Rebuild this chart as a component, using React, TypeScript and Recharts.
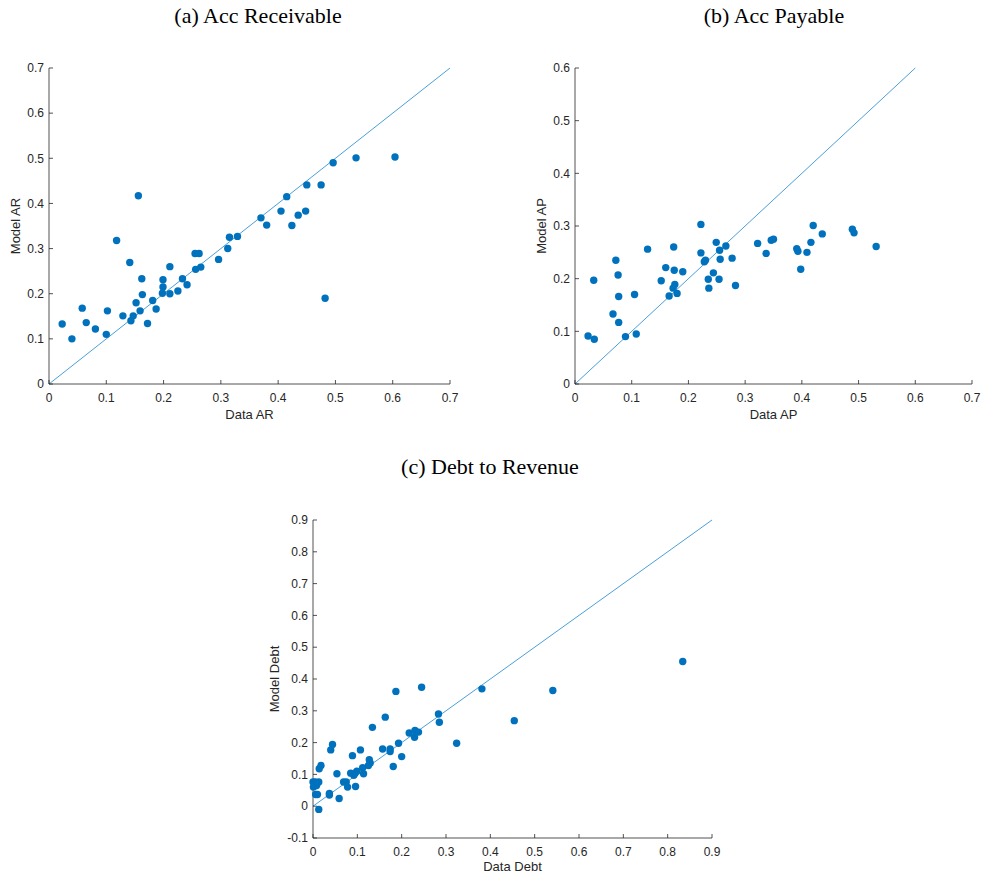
import { ScatterChart, Scatter, XAxis, YAxis, ReferenceLine } from "recharts";

// (a) accounts receivable: data vs model
const arData = [0.023, 0.04, 0.058, 0.065, 0.081, 0.1, 0.102, 0.118, 0.129, 0.141, 0.143, 0.147, 0.152, 0.156, 0.159, 0.162, 0.163, 0.172, 0.181, 0.187, 0.199, 0.199, 0.198, 0.211, 0.211, 0.225, 0.233, 0.241, 0.256, 0.255, 0.262, 0.265, 0.296, 0.312, 0.315, 0.329, 0.37, 0.38, 0.405, 0.415, 0.424, 0.435, 0.448, 0.45, 0.475, 0.482, 0.496, 0.536, 0.604];
const arModel = [0.133, 0.1, 0.168, 0.136, 0.122, 0.11, 0.162, 0.318, 0.151, 0.269, 0.14, 0.151, 0.18, 0.417, 0.162, 0.233, 0.198, 0.134, 0.185, 0.166, 0.231, 0.215, 0.201, 0.26, 0.2, 0.206, 0.233, 0.22, 0.254, 0.289, 0.289, 0.259, 0.276, 0.3, 0.325, 0.327, 0.368, 0.352, 0.383, 0.415, 0.351, 0.374, 0.383, 0.441, 0.441, 0.19, 0.49, 0.501, 0.503];

// (b) accounts payable
const apData = [0.023, 0.034, 0.033, 0.067, 0.072, 0.076, 0.077, 0.077, 0.089, 0.105, 0.108, 0.128, 0.152, 0.16, 0.166, 0.174, 0.175, 0.173, 0.176, 0.18, 0.19, 0.222, 0.222, 0.228, 0.23, 0.235, 0.236, 0.244, 0.249, 0.254, 0.255, 0.256, 0.266, 0.277, 0.283, 0.322, 0.337, 0.346, 0.35, 0.391, 0.393, 0.398, 0.409, 0.416, 0.42, 0.436, 0.489, 0.492, 0.531];
const apModel = [0.091, 0.085, 0.197, 0.133, 0.235, 0.207, 0.166, 0.117, 0.09, 0.17, 0.095, 0.256, 0.196, 0.221, 0.167, 0.26, 0.216, 0.182, 0.189, 0.172, 0.213, 0.303, 0.249, 0.232, 0.235, 0.199, 0.182, 0.211, 0.269, 0.199, 0.254, 0.237, 0.262, 0.239, 0.187, 0.267, 0.248, 0.273, 0.275, 0.257, 0.252, 0.218, 0.25, 0.269, 0.301, 0.285, 0.294, 0.287, 0.261];

// (c) debt to revenue
const debtData = [0.0, 0.001, 0.005, 0.008, 0.006, 0.013, 0.01, 0.013, 0.014, 0.018, 0.037, 0.037, 0.04, 0.044, 0.054, 0.059, 0.069, 0.075, 0.078, 0.085, 0.089, 0.092, 0.095, 0.096, 0.099, 0.107, 0.112, 0.114, 0.125, 0.127, 0.129, 0.134, 0.157, 0.163, 0.174, 0.174, 0.181, 0.187, 0.193, 0.2, 0.217, 0.229, 0.23, 0.238, 0.245, 0.283, 0.285, 0.324, 0.381, 0.454, 0.541, 0.834];
const debtModel = [0.076, 0.06, 0.076, 0.065, 0.037, 0.076, 0.037, -0.01, 0.118, 0.128, 0.04, 0.035, 0.177, 0.194, 0.102, 0.024, 0.076, 0.076, 0.06, 0.104, 0.159, 0.097, 0.104, 0.062, 0.11, 0.177, 0.121, 0.102, 0.128, 0.146, 0.136, 0.248, 0.18, 0.28, 0.18, 0.172, 0.125, 0.361, 0.198, 0.156, 0.23, 0.217, 0.238, 0.233, 0.374, 0.29, 0.264, 0.198, 0.369, 0.269, 0.364, 0.455];

const ticks07 = [0, 0.1, 0.2, 0.3, 0.4, 0.5, 0.6, 0.7];
const ticks06 = [0, 0.1, 0.2, 0.3, 0.4, 0.5, 0.6];
const ticks09 = [0, 0.1, 0.2, 0.3, 0.4, 0.5, 0.6, 0.7, 0.8, 0.9];
const ticksDebtY = [-0.1, 0, 0.1, 0.2, 0.3, 0.4, 0.5, 0.6, 0.7, 0.8, 0.9];

const DOT = "#0072BD";
const DIAG = "#4a9fda";
const AXIS = "#262626";
const SANS = "'Liberation Sans', Arial, sans-serif";
const SERIF = "'Liberation Serif', 'Times New Roman', serif";

const toPoints = (xs: number[], ys: number[]) => xs.map((x, i) => ({ x, y: ys[i] }));

// eslint-disable-next-line @typescript-eslint/no-explicit-any
const Dot = (props: any) => <circle cx={props.cx} cy={props.cy} r={3.7} fill={DOT} />;

// eslint-disable-next-line @typescript-eslint/no-explicit-any
const xTitle = (dy: number) => (props: any) => {
  const vb = props.viewBox;
  return (
    <text x={vb.x + vb.width / 2} y={vb.y + dy} textAnchor="middle" dominantBaseline="central" fontSize={13} fill={AXIS} fontFamily={SANS}>
      {props.value}
    </text>
  );
};

// eslint-disable-next-line @typescript-eslint/no-explicit-any
const yTitle = (cx: number) => (props: any) => {
  const vb = props.viewBox;
  const cy = vb.y + vb.height / 2;
  return (
    <text x={cx} y={cy} transform={`rotate(-90 ${cx} ${cy})`} textAnchor="middle" dominantBaseline="central" fontSize={13} fill={AXIS} fontFamily={SANS}>
      {props.value}
    </text>
  );
};

interface PanelProps {
  left: number;
  top: number;
  width: number;
  height: number;
  margin: { top: number; right: number; bottom: number; left: number };
  xAxisHeight: number;
  points: { x: number; y: number }[];
  xTicks: number[];
  yTicks: number[];
  diagMax: number;
  xLabel: string;
  yLabel: string;
  yLabelX: number;
  xLabelDy: number;
}

function Panel(p: PanelProps) {
  const tickStyle = { fontSize: 12, fill: AXIS, fontFamily: SANS };
  return (
    <div style={{ position: "absolute", left: p.left, top: p.top }}>
      <ScatterChart width={p.width} height={p.height} margin={p.margin}>
        <XAxis
          type="number"
          dataKey="x"
          domain={[p.xTicks[0], p.xTicks[p.xTicks.length - 1]]}
          ticks={p.xTicks}
          interval={0}
          height={p.xAxisHeight}
          tick={tickStyle}
          tickSize={-4}
          tickMargin={13}
          axisLine={{ stroke: AXIS, strokeWidth: 0.8 }}
          tickLine={{ stroke: AXIS, strokeWidth: 0.8 }}
          label={{ value: p.xLabel, content: xTitle(p.xLabelDy) }}
        />
        <YAxis
          type="number"
          dataKey="y"
          domain={[p.yTicks[0], p.yTicks[p.yTicks.length - 1]]}
          ticks={p.yTicks}
          interval={0}
          width={49}
          tick={tickStyle}
          tickSize={-4}
          tickMargin={9}
          axisLine={{ stroke: AXIS, strokeWidth: 0.8 }}
          tickLine={{ stroke: AXIS, strokeWidth: 0.8 }}
          label={{ value: p.yLabel, content: yTitle(p.yLabelX) }}
        />
        <ReferenceLine
          segment={[{ x: 0, y: 0 }, { x: p.diagMax, y: p.diagMax }]}
          stroke={DIAG}
          strokeWidth={1}
        />
        <Scatter data={p.points} shape={<Dot />} isAnimationActive={false} />
      </ScatterChart>
    </div>
  );
}

const titleStyle = (cx: number, cy: number): React.CSSProperties => ({
  position: "absolute",
  left: cx - 200,
  top: cy - 13,
  width: 400,
  lineHeight: "26px",
  textAlign: "center",
  fontFamily: SERIF,
  fontSize: 22,
  color: "#000",
});

export default function App() {
  return (
    <div style={{ position: "absolute", left: 0, top: 0, width: 984, height: 879, background: "#fff" }}>
      <div style={titleStyle(258, 16)}>(a) Acc Receivable</div>
      <div style={titleStyle(774, 16)}>(b) Acc Payable</div>
      <div style={titleStyle(490, 467)}>(c) Debt to Revenue</div>

      <Panel
        left={0}
        top={0}
        width={470}
        height={430}
        margin={{ top: 68, right: 20, bottom: 0, left: 0 }}
        xAxisHeight={46}
        points={toPoints(arData, arModel)}
        xTicks={ticks07}
        yTicks={ticks07}
        diagMax={0.7}
        xLabel="Data AR"
        yLabel="Model AR"
        yLabelX={15}
        xLabelDy={30}
      />
      <Panel
        left={526}
        top={0}
        width={458}
        height={430}
        margin={{ top: 68, right: 12, bottom: 0, left: 0 }}
        xAxisHeight={46}
        points={toPoints(apData, apModel)}
        xTicks={ticks07}
        yTicks={ticks06}
        diagMax={0.6}
        xLabel="Data AP"
        yLabel="Model AP"
        yLabelX={15}
        xLabelDy={30}
      />
      <Panel
        left={264}
        top={440}
        width={470}
        height={439}
        margin={{ top: 80, right: 22, bottom: 0, left: 0 }}
        xAxisHeight={41}
        points={toPoints(debtData, debtModel)}
        xTicks={ticks09}
        yTicks={ticksDebtY}
        diagMax={0.9}
        xLabel="Data Debt"
        yLabel="Model Debt"
        yLabelX={10}
        xLabelDy={28}
      />
    </div>
  );
}
